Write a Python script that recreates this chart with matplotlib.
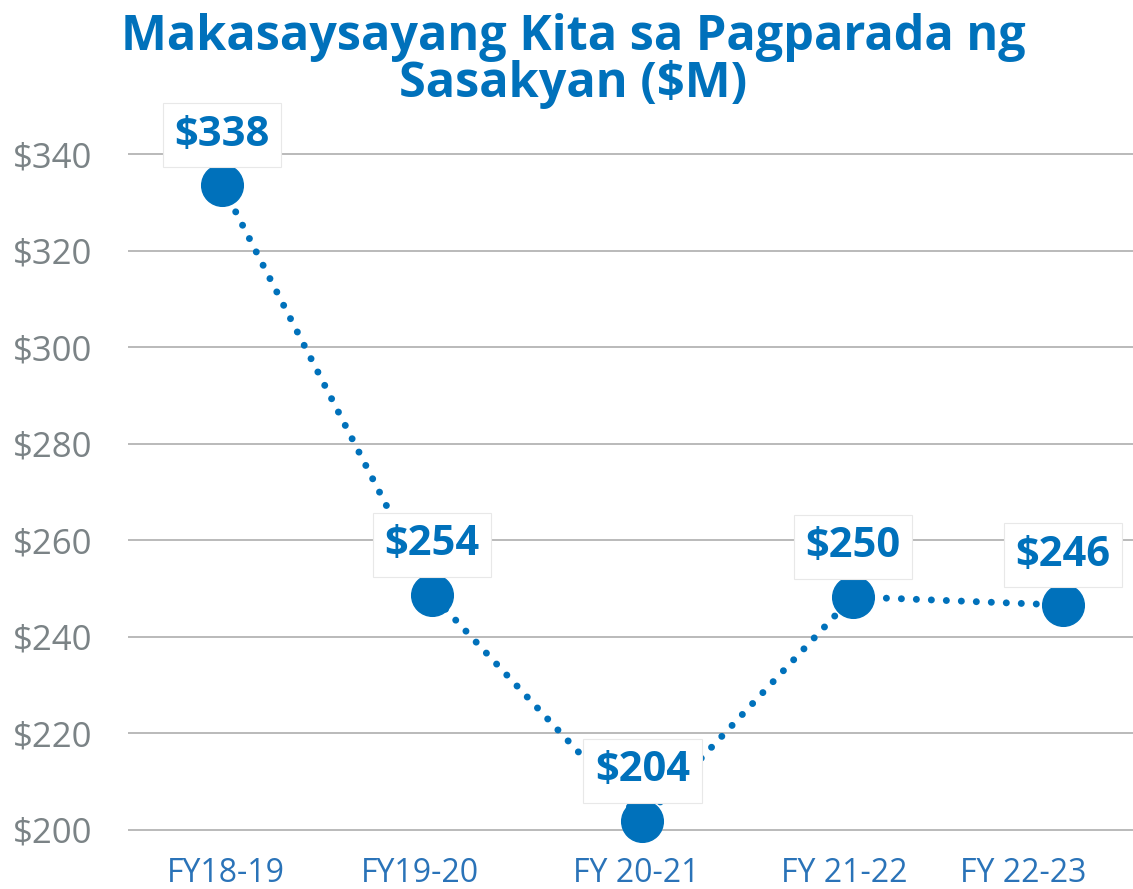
import numpy as np
import matplotlib.pyplot as plt

plt.rcParams['font.family'] = ['Open Sans', 'DejaVu Sans']

years = ['FY18-19', 'FY19-20', 'FY 20-21', 'FY 21-22', 'FY 22-23']
# where the dots sit on the chart
values = [333.6, 248.7, 201.9, 248.3, 246.6]
# the printed labels
labels = ['$338', '$254', '$204', '$250', '$246']
yticks = [200, 220, 240, 260, 280, 300, 320, 340]
# category labels are not quite under the points in the original
label_pos = [0.02, 0.94, 1.97, 2.96, 3.81]

blue = '#0071bb'
grey = '#7b8386'

fig = plt.figure(figsize=(11.33, 8.89), dpi=100)
ax = fig.add_axes([0.113, 0.0439, 0.887, 0.832])

x = np.arange(len(years))
ax.plot(x, values, color=blue, linestyle=(0, (0.01, 2.15)), linewidth=5,
        dash_capstyle='round', zorder=2)
ax.plot(x, values, 'o', color=blue, markersize=30, zorder=3)

for xi, v, lab in zip(x, values, labels):
    ax.annotate(lab, (xi, v), xytext=(0, 36), textcoords='offset points',
                ha='center', va='center', fontsize=30, fontweight='bold',
                color=blue, zorder=4,
                bbox=dict(boxstyle='square,pad=0.28', fc='white',
                          ec='#e8e8e8', lw=0.8))

ax.set_xlim(-0.447, 4.333)
ax.set_ylim(195.86, 349.1)
ax.set_yticks(yticks)
ax.set_yticklabels(['$%d' % t for t in yticks], fontsize=25, color=grey)
ax.set_xticks(label_pos)
ax.set_xticklabels(years, fontsize=23, color='#2a73b8')
ax.tick_params(axis='y', length=0, pad=26)
ax.tick_params(axis='x', length=0, pad=5)
ax.grid(axis='y', color='#b4b4b4', linewidth=1.3)
ax.grid(axis='x', visible=False)
ax.set_axisbelow(True)
for s in ax.spines.values():
    s.set_visible(False)

fig.text(0.506, 0.985, 'Makasaysayang Kita sa Pagparada ng\nSasakyan ($M)',
         ha='center', va='top', fontsize=35, fontweight='bold', color=blue,
         linespacing=0.95)

fig.savefig('out.png', dpi=100)
